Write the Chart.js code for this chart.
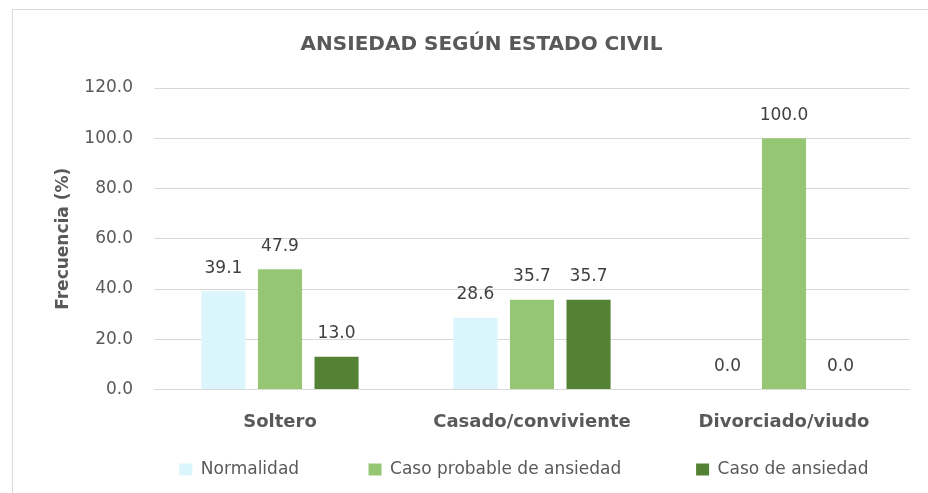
<!DOCTYPE html>
<html>
<head>
<meta charset="utf-8">
<script src="https://cdn.jsdelivr.net/npm/chart.js@4/dist/chart.umd.min.js"></script>
<style>
  html, body { margin: 0; padding: 0; background: #ffffff; }
  #wrap { position: relative; width: 928px; height: 493px; overflow: hidden; }
  #frame { position: absolute; left: 12px; top: 9px; width: 930px; height: 500px;
           border-top: 1px solid #d9d9d9; border-left: 1px solid #d9d9d9; box-sizing: border-box; }
  canvas { position: absolute; left: 0; top: 0; }
</style>
</head>
<body>
<div id="wrap">
  <div id="frame"></div>
  <canvas id="c" width="928" height="493"></canvas>
</div>
<script>
const categories = ['Soltero', 'Casado/conviviente', 'Divorciado/viudo'];
const seriesNames = ['Normalidad', 'Caso probable de ansiedad', 'Caso de ansiedad'];
const normalidad = [39.1, 28.6, 0.0];
const casoProbable = [47.9, 35.7, 100.0];
const casoAnsiedad = [13.0, 35.7, 0.0];
const yTickLabels = ['0.0', '20.0', '40.0', '60.0', '80.0', '100.0', '120.0'];
const chartTitle = 'ANSIEDAD SEGÚN ESTADO CIVIL';
const yAxisTitle = 'Frecuencia (%)';

const FONT = "'DejaVu Sans', sans-serif";
const TEXT = '#595959';
const legendGaps = [11, 12, 3];

const dataLabels = {
  id: 'dataLabels',
  afterDatasetsDraw(chart) {
    const ctx = chart.ctx;
    ctx.save();
    ctx.font = "17px " + FONT;
    ctx.fillStyle = '#404040';
    ctx.textAlign = 'center';
    ctx.textBaseline = 'middle';
    chart.data.datasets.forEach((ds, i) => {
      const meta = chart.getDatasetMeta(i);
      meta.data.forEach((el, j) => {
        ctx.fillText(ds.data[j].toFixed(1), el.x, el.y - 23);
      });
    });
    ctx.restore();
  }
};

new Chart(document.getElementById('c'), {
  type: 'bar',
  data: {
    labels: categories,
    datasets: [
      { label: seriesNames[0], data: normalidad, backgroundColor: '#daf5fc' },
      { label: seriesNames[1], data: casoProbable, backgroundColor: '#95c673' },
      { label: seriesNames[2], data: casoAnsiedad, backgroundColor: '#548235' }
    ]
  },
  options: {
    responsive: false,
    devicePixelRatio: 1,
    animation: false,
    layout: { padding: { left: 53, right: 18, top: 0, bottom: 5 } },
    datasets: { bar: { categoryPercentage: 0.673, barPercentage: 0.78 } },
    plugins: {
      title: {
        display: true,
        text: chartTitle,
        color: TEXT,
        font: { family: FONT, size: 20, weight: 'bold' },
        padding: { top: 33, bottom: 31 }
      },
      legend: {
        position: 'bottom',
        fullSize: false,
        labels: {
          color: TEXT,
          font: { family: FONT, size: 17 },
          boxWidth: 13,
          boxHeight: 12,
          padding: 10,
          generateLabels(chart) {
            const items = Chart.defaults.plugins.legend.labels.generateLabels(chart);
            items.forEach((it, i) => { it.text = it.text + ' '.repeat(legendGaps[i]); });
            return items;
          }
        }
      },
      tooltip: { enabled: false }
    },
    scales: {
      x: {
        afterFit(s) { s.height = 61.5; },
        grid: { display: false, drawTicks: false },
        border: { display: false },
        ticks: { color: TEXT, font: { family: FONT, size: 18, weight: 'bold' }, padding: 22 }
      },
      y: {
        min: 0, max: 120,
        afterFit(s) { s.width = 101; },
        grid: { color: '#d9d9d9', lineWidth: 1, drawTicks: false },
        border: { display: false },
        ticks: {
          stepSize: 20,
          color: TEXT,
          font: { family: FONT, size: 17 },
          padding: 21,
          callback: (v, i) => yTickLabels[i]
        },
        title: {
          display: true,
          text: yAxisTitle,
          color: TEXT,
          font: { family: FONT, size: 17, weight: 'bold' },
          padding: { top: 0, bottom: 0 }
        }
      }
    }
  },
  plugins: [dataLabels]
});
</script>
</body>
</html>
